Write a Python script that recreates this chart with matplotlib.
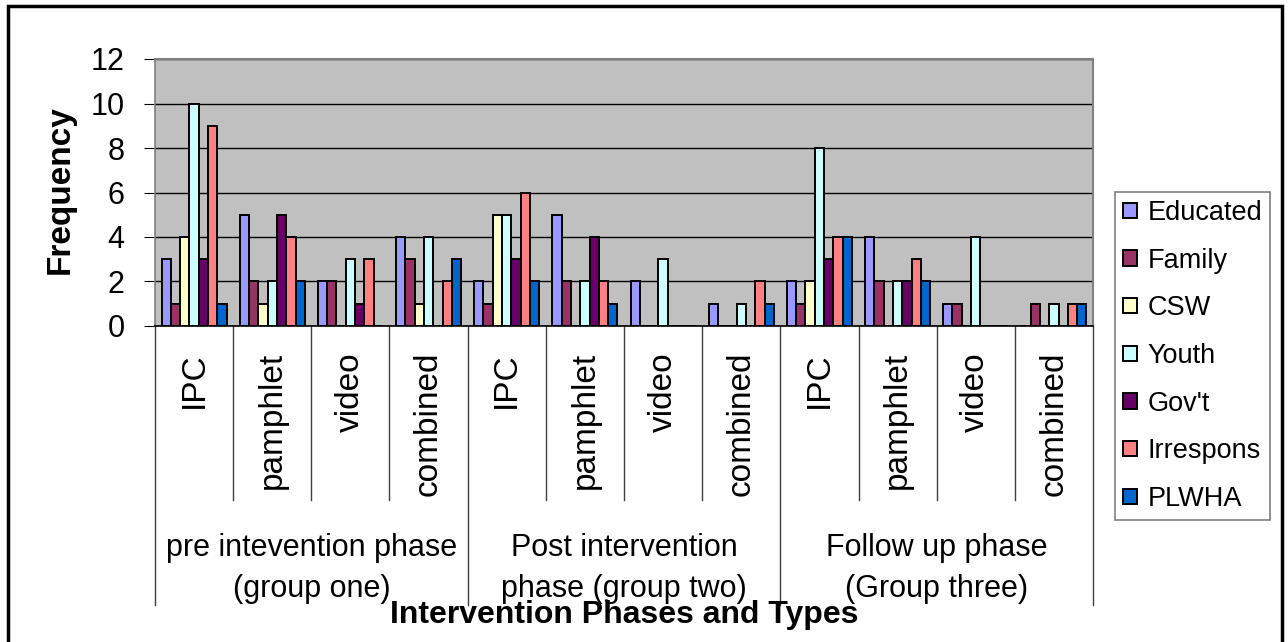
import matplotlib
matplotlib.use("Agg")
import matplotlib.pyplot as plt
import numpy as np
from matplotlib.patches import Rectangle

plt.rcParams['font.family'] = ['Liberation Sans', 'DejaVu Sans']

# ---- data ----
types = ["IPC", "pamphlet", "video", "combined"] * 3
phases = ["pre intevention phase\n(group one)",
          "Post intervention\nphase (group two)",
          "Follow up phase\n(Group three)"]
series_names = ["Educated", "Family", "CSW", "Youth", "Gov't", "Irrespons", "PLWHA"]
educated  = [3, 5, 2, 4, 2, 5, 2, 1, 2, 4, 1, 0]
family    = [1, 2, 2, 3, 1, 2, 0, 0, 1, 2, 1, 1]
csw       = [4, 1, 0, 1, 5, 0, 0, 0, 2, 0, 0, 0]
youth     = [10, 2, 3, 4, 5, 2, 3, 1, 8, 2, 4, 1]
govt      = [3, 5, 1, 0, 3, 4, 0, 0, 3, 2, 0, 0]
irrespons = [9, 4, 3, 2, 6, 2, 0, 2, 4, 3, 0, 1]
plwha     = [1, 2, 0, 3, 2, 1, 0, 1, 4, 2, 0, 1]
series = [educated, family, csw, youth, govt, irrespons, plwha]
colors = ["#9999FF", "#993366", "#FFFFCC", "#CCFFFF", "#660066", "#FF8080", "#0066CC"]

W, H = 1288, 642
fig = plt.figure(figsize=(W / 100, H / 100), dpi=100)
ax = fig.add_axes([155 / W, 1 - 326 / H, (1093 - 155) / W, (326 - 59) / H])
ax.set_facecolor("#C0C0C0")

x = np.arange(len(types))
bw = 0.119
for j, (vals, c, name) in enumerate(zip(series, colors, series_names)):
    ax.bar(x + (j - 3) * bw, vals, width=bw, color=c, edgecolor="black",
           linewidth=1.4, label=name, zorder=3)

ax.set_xlim(-0.5, len(types) - 0.5)
ax.set_ylim(0, 12)
ax.set_yticks(range(0, 13, 2))
ax.tick_params(axis='y', labelsize=22, length=8, direction='out', pad=14, color='black')
ax.set_xticks([])
ax.grid(axis='y', color='black', linewidth=1.0, zorder=1)
ax.set_axisbelow(True)
for s in ['top', 'right']:
    ax.spines[s].set_color('#808080')
    ax.spines[s].set_linewidth(1.5)
ax.spines['left'].set_color('#808080')
ax.spines['left'].set_linewidth(1.2)
ax.spines['bottom'].set_color('black')
ax.spines['bottom'].set_linewidth(1.2)

trans = ax.get_xaxis_transform()
# separators
for k in range(len(types) + 1):
    bottom = -1.045 if k % 4 == 0 else -0.652
    ax.plot([k - 0.5, k - 0.5], [0, bottom], transform=trans, color='#404040',
            linewidth=1.0, clip_on=False)
# category labels
for i, t in enumerate(types):
    ax.text(i, -0.097, t, transform=trans, rotation=90, ha='center', va='top',
            fontsize=24, clip_on=False)
# group labels
for g, p in enumerate(phases):
    ax.text(g * 4 + 1.5, -0.908, p, transform=trans, ha='center', va='center',
            fontsize=22, linespacing=1.5, clip_on=False)

fig.text(624 / W, 1 - 615 / H, "Intervention Phases and Types", ha='center',
         va='center', fontsize=23, fontweight='bold')
fig.text(60 / W, 1 - 190 / H, "Frequency", ha='center', va='center',
         rotation=90, fontsize=24, fontweight='bold')

leg = fig.legend(loc='center left', bbox_to_anchor=(1115 / W, 1 - 356 / H),
                 fontsize=19.5, frameon=True, fancybox=False, borderaxespad=0,
                 handlelength=0.5, handleheight=0.5, handletextpad=0.4,
                 labelspacing=0.8, borderpad=0.3)
leg.get_frame().set_edgecolor('#606060')
leg.get_frame().set_linewidth(1.2)

# outer border
fig.patches.append(Rectangle((8 / W, -0.05), (1282 - 8) / W, 1.05 - 6 / H,
                             transform=fig.transFigure, fill=False,
                             edgecolor='black', linewidth=2.5))

fig.savefig("out.png", dpi=100)
